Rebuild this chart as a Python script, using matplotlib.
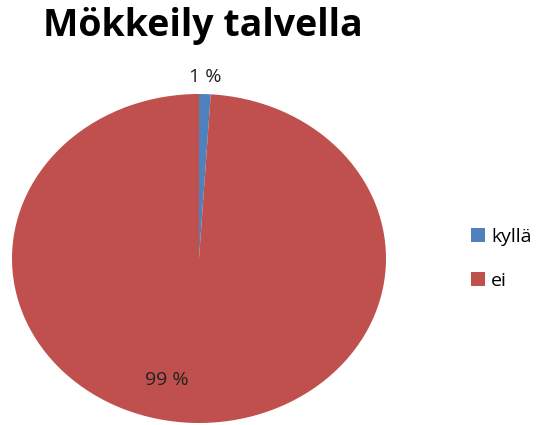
import matplotlib
matplotlib.use("Agg")
import matplotlib.pyplot as plt
from matplotlib.patches import Patch

categories = ["kyllä", "ei"]
values = [1, 99]
value_labels = ["1 %", "99 %"]
colors = ["#4F81BD", "#C0504D"]

W, H = 546, 425
fig = plt.figure(figsize=(W / 100, H / 100), dpi=100)
fig.patch.set_facecolor("white")

# pie axes (slightly wider than tall, so the pie is an ellipse)
left, right, top, bottom = 12, 386, 94, 423
ax = fig.add_axes([left / W, (H - bottom) / H, (right - left) / W, (bottom - top) / H])
wedges, _ = ax.pie(values, colors=colors, startangle=90, counterclock=False,
                   radius=1.0, wedgeprops=dict(linewidth=0))
ax.set_xlim(-1, 1)
ax.set_ylim(-1, 1)
ax.set_aspect("auto")
ax.axis("off")

# value labels in axes data coordinates
ax.annotate(value_labels[0], xy=(0.035, 1.105), ha="center", va="center",
            fontsize=14, family="Open Sans", color="#222222",
            annotation_clip=False)
ax.annotate(value_labels[1], xy=(-0.17, -0.74), ha="center", va="center",
            fontsize=14, family="Open Sans", color="#222222",
            annotation_clip=False)

fig.text(203 / W, 1 - 26 / H, "Mökkeily talvella", ha="center", va="center",
         fontsize=27, fontweight="bold", family="Open Sans", color="black")

handles = [Patch(facecolor=c, edgecolor="none") for c in colors]
fig.legend(handles, categories, loc="center left",
           bbox_to_anchor=(453 / W, 1 - 259 / H), frameon=False,
           prop=dict(family="Open Sans", size=14),
           handlelength=0.75, handleheight=0.75, handletextpad=0.3,
           labelspacing=1.35)

fig.savefig("out.png", dpi=100, facecolor="white")
